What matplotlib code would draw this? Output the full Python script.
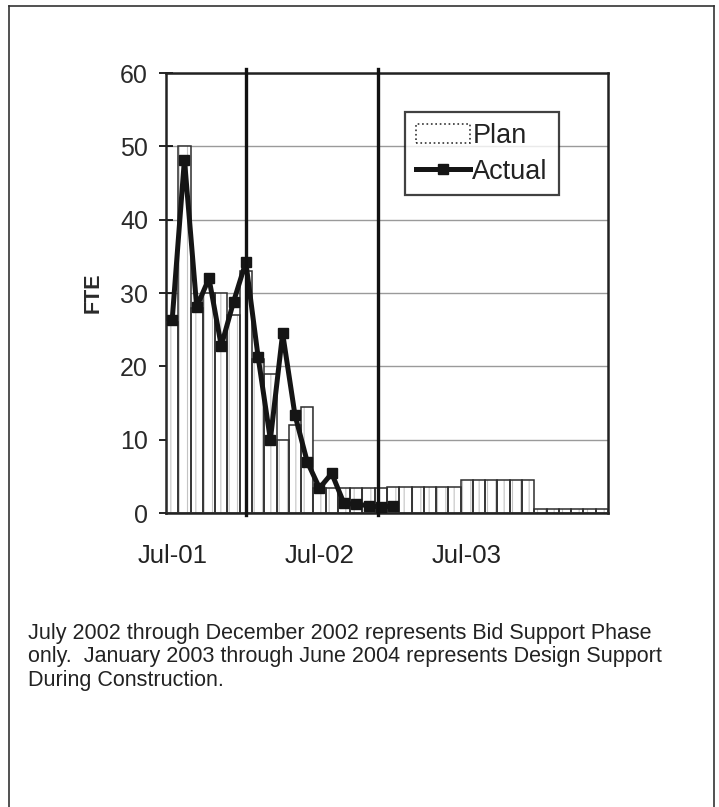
import matplotlib.pyplot as plt
from matplotlib.lines import Line2D
from matplotlib.patches import Patch

plt.rcParams["font.family"] = ["Liberation Sans", "DejaVu Sans"]
plt.rcParams["hatch.linewidth"] = 0.8

# monthly FTE, Jul-01 .. Jun-04
plan = [26, 50, 28, 30, 30, 27, 33, 21, 19, 10, 12, 14.5,
        3.4, 3.4, 3.4, 3.4, 3.4, 3.4,
        3.5, 3.5, 3.5, 3.5, 3.5, 3.5,
        4.5, 4.5, 4.5, 4.5, 4.5, 4.5,
        0.5, 0.5, 0.5, 0.5, 0.5, 0.5]
actual = [26.3, 48.2, 28.1, 32.0, 22.8, 28.8, 34.2, 21.3, 10.0, 24.5,
          13.4, 7.0, 3.4, 5.4, 1.3, 1.2, 1.0, 0.8, 1.0]
tick_pos = [0, 12, 24]
tick_labels = ["Jul-01", "Jul-02", "Jul-03"]
phase_lines = [6.0, 16.75]
caption = ("July 2002 through December 2002 represents Bid Support Phase\n"
           "only.  January 2003 through June 2004 represents Design Support\n"
           "During Construction.")

fig = plt.figure(figsize=(7.19, 8.07), dpi=100)
ax = fig.add_axes([0.2309, 0.3643, 0.6147, 0.5452])

x = list(range(len(plan)))
xa = list(range(len(actual)))

# bars: faint vertical hatch, then dark outline
ax.bar(x, plan, width=1.0, color="white", hatch="||", edgecolor="#c4c4c4",
       linewidth=0, zorder=2)
ax.bar(x, plan, width=1.0, color="none", edgecolor="#2e2e2e",
       linewidth=1.1, zorder=3)

ax.plot(xa, actual, color="#151515", lw=3.6, marker="s", markersize=7,
        zorder=5)

for p in phase_lines:
    ax.plot([p, p], [-0.3, 60.6], color="#111111", lw=2.4, zorder=6,
            clip_on=False)

ax.set_xlim(-0.5, len(plan) - 0.5)
ax.set_ylim(0, 60)
ax.set_yticks(range(0, 61, 10))
ax.yaxis.grid(True, color="#9a9a9a", lw=1.0, zorder=0)
ax.set_axisbelow(True)
ax.set_xticks(tick_pos)
ax.set_xticklabels(tick_labels, fontsize=18.5, color="#222222")
ax.tick_params(axis="x", length=0, pad=22)
ax.tick_params(axis="y", direction="inout", length=10, width=1.2,
               labelsize=18, labelcolor="#2a2a2a", pad=8)

for s in ax.spines.values():
    s.set_color("#222222")
    s.set_linewidth(1.8)

ax.set_ylabel("FTE", fontsize=15.5, fontweight="bold", color="#2a2a2a",
              labelpad=12)

handles = [Patch(facecolor="white", edgecolor="#333333", linestyle=":",
                 linewidth=1.2),
           Line2D([0], [0], color="#151515", lw=3.6, marker="s",
                  markersize=7)]
leg = ax.legend(handles, ["Plan", "Actual"], loc="upper left",
                bbox_to_anchor=(0.54, 0.911), fontsize=19.5, frameon=True,
                fancybox=False, handlelength=2.0, handletextpad=0.1,
                borderpad=0.4, labelspacing=0.35, borderaxespad=0)
leg.get_frame().set_edgecolor("#111111")
leg.get_frame().set_linewidth(1.6)
for t in leg.get_texts():
    t.set_color("#222222")

fig.text(0.039, 0.228, caption, fontsize=15.5, color="#222222",
         va="top", ha="left", linespacing=1.15)

# page border
fig.add_artist(Line2D([0.012, 0.012], [0.0, 0.992], color="#333333", lw=1.2))
fig.add_artist(Line2D([0.012, 0.993], [0.992, 0.992], color="#333333", lw=1.2))
fig.add_artist(Line2D([0.993, 0.993], [0.0, 0.992], color="#333333", lw=1.2))

fig.savefig("out.png", dpi=100)
